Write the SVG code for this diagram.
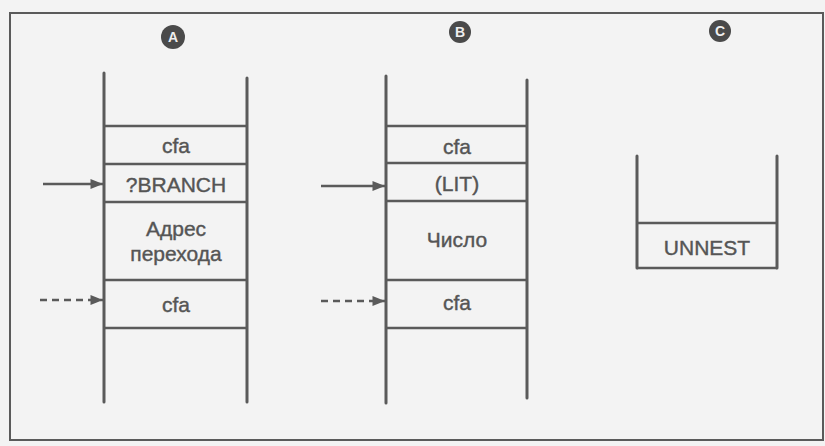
<svg xmlns="http://www.w3.org/2000/svg" width="825" height="446" viewBox="0 0 825 446">
<defs>
<style>
.ln{stroke:#5a5a5a;stroke-width:3;fill:none;stroke-linecap:round}
.hl{stroke:#5a5a5a;stroke-width:2.5;fill:none}
.tx{font-family:"Liberation Sans",Arial,sans-serif;font-size:21px;fill:#555;text-anchor:middle;stroke:#555;stroke-width:0.4}
.badge{fill:#4a4a4a}
.bt{font-family:"Liberation Sans",Arial,sans-serif;font-size:14px;font-weight:bold;fill:#eee;text-anchor:middle}
.ar{stroke:#5a5a5a;stroke-width:2.5;fill:none}
.dash{stroke-dasharray:7,5}
</style>
<marker id="ah" viewBox="0 0 10 10" refX="10" refY="5" markerWidth="6.5" markerHeight="5" orient="auto" markerUnits="strokeWidth">
<path d="M0,1 L10,5 L0,9 Z" fill="#5a5a5a"/>
</marker>
</defs>
<rect x="0" y="0" width="825" height="446" fill="#f3f3f3"/>
<rect x="10" y="13" width="813" height="427" fill="none" stroke="#5a5a5a" stroke-width="2"/>

<g id="stackA">
<circle class="badge" cx="173" cy="37" r="12"/>
<text class="bt" x="173" y="42">A</text>
<line class="ln" x1="104" y1="73" x2="104" y2="402"/>
<line class="ln" x1="247" y1="78" x2="247" y2="402"/>
<line class="hl" x1="104" y1="126" x2="247" y2="126"/>
<line class="hl" x1="104" y1="164" x2="247" y2="164"/>
<line class="hl" x1="104" y1="202" x2="247" y2="202"/>
<line class="hl" x1="104" y1="280" x2="247" y2="280"/>
<line class="hl" x1="104" y1="328" x2="247" y2="328"/>
<text class="tx" x="176" y="153">cfa</text>
<text class="tx" x="176" y="192">?BRANCH</text>
<text class="tx" x="176" y="236">Адрес</text>
<text class="tx" x="176" y="261">перехода</text>
<text class="tx" x="176" y="312">cfa</text>
</g>

<g id="stackB">
<circle class="badge" cx="460" cy="32" r="11"/>
<text class="bt" x="460" y="37">B</text>
<line class="ln" x1="386" y1="76" x2="386" y2="403"/>
<line class="ln" x1="527" y1="80" x2="527" y2="398"/>
<line class="hl" x1="386" y1="126" x2="527" y2="126"/>
<line class="hl" x1="386" y1="163" x2="527" y2="163"/>
<line class="hl" x1="386" y1="201" x2="527" y2="201"/>
<line class="hl" x1="386" y1="280" x2="527" y2="280"/>
<line class="hl" x1="386" y1="328" x2="527" y2="328"/>
<text class="tx" x="457" y="154">cfa</text>
<text class="tx" x="457" y="191">(LIT)</text>
<text class="tx" x="457" y="247">Число</text>
<text class="tx" x="457" y="310">cfa</text>
</g>

<g id="stackC">
<circle class="badge" cx="720" cy="31" r="11"/>
<text class="bt" x="720" y="36">C</text>
<line class="ln" x1="637" y1="156" x2="637" y2="268"/>
<line class="ln" x1="777" y1="156" x2="777" y2="268"/>
<line class="hl" x1="637" y1="223" x2="777" y2="223"/>
<line class="hl" x1="637" y1="268" x2="777" y2="268"/>
<text class="tx" x="707" y="255">UNNEST</text>
</g>

<g id="connectors">
<line class="ar" x1="43" y1="184" x2="103" y2="184" marker-end="url(#ah)"/>
<line class="ar dash" x1="40" y1="300" x2="103" y2="300" marker-end="url(#ah)"/>
<line class="ar" x1="321" y1="186" x2="385" y2="186" marker-end="url(#ah)"/>
<line class="ar dash" x1="321" y1="301" x2="385" y2="301" marker-end="url(#ah)"/>
</g>
</svg>
